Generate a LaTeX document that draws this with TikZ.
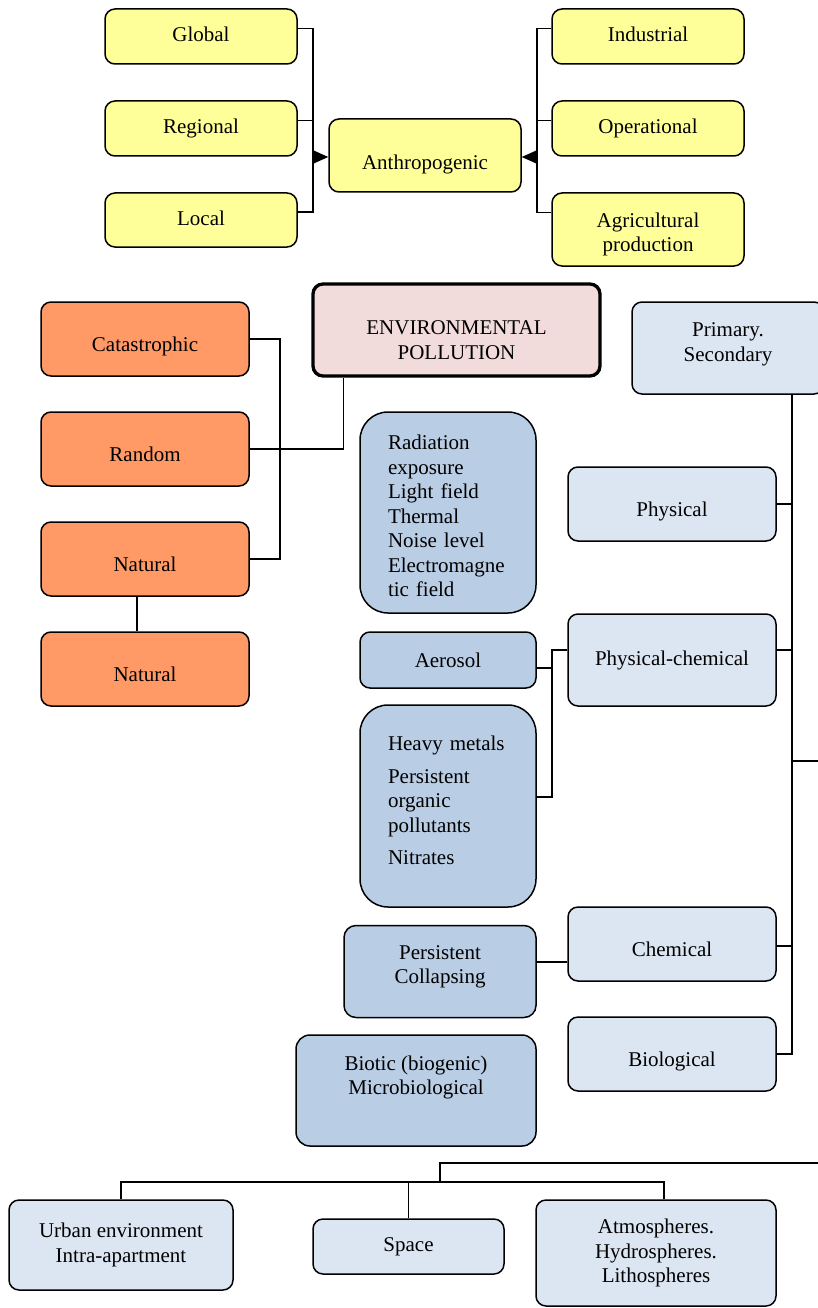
\documentclass[tikz,border=0pt]{standalone}
\usepackage{fontspec}
\setmainfont{Liberation Serif}
\usetikzlibrary{arrows.meta}
\definecolor{yel}{HTML}{FFFF99}
\definecolor{org}{HTML}{FF9966}
\definecolor{pnk}{HTML}{F2DCDB}
\definecolor{lblue}{HTML}{DCE6F2}
\definecolor{dblue}{HTML}{B9CDE5}
\newcommand\myTop[1]{\rule{0pt}{#1}}
\newcommand\myBot[1]{\rule[-#1]{0pt}{#1}}
\begin{document}
\begin{tikzpicture}[x=1pt,y=-1pt,
  every node/.style={font=\fontsize{21}{24.5}\selectfont, inner sep=0pt},
  box/.style={draw=black, line width=1.5pt, rounded corners=10pt, align=center},
  ybox/.style={box, fill=yel, minimum width=192pt, text height=15pt, text depth=4pt},
  obox/.style={box, fill=org, minimum width=208pt, minimum height=74pt, low},
  lbox/.style={box, fill=lblue},
  dbox/.style={box, fill=dblue},
  low/.style={text height=25.4pt, text depth=0pt},
  conn/.style={draw=black, line width=1.4pt},
  tip/.style={-{Triangle[length=16pt,width=14pt]}}
]
\useasboundingbox (0,0) rectangle (818,1308);

% ---------- top: anthropogenic ----------
\node[ybox, minimum height=55pt] (global) at (201,36.5) {Global};
\node[ybox, minimum height=55pt] (regional) at (201,128.5) {Regional};
\node[ybox, minimum height=54pt] (local) at (201,220) {Local};
\node[box, fill=yel, minimum width=192pt, minimum height=73pt, text height=29pt, text depth=0pt] (anthro) at (425,155.5) {Anthropogenic};
\node[ybox, minimum height=55pt] (industrial) at (648,36.5) {Industrial};
\node[ybox, minimum height=55pt] (operational) at (648,128.5) {Operational};
\node[box, fill=yel, minimum width=192pt, minimum height=73pt] (agri) at (648,229.5) {\myTop{24pt}Agricultural\\production};

\coordinate (lb) at (313,155.5);
\coordinate (rb) at (537,155.5);
\coordinate (g1) at ([yshift=8pt]global.east);
\coordinate (r1) at ([yshift=8pt]regional.east);
\coordinate (l1) at ([yshift=8pt]local.east);
\coordinate (i1) at ([yshift=8pt]industrial.west);
\coordinate (o1) at ([yshift=8pt]operational.west);
\coordinate (a1) at ([yshift=17pt]agri.west);
\coordinate (aw) at ([yshift=-1.5pt]anthro.west);
\coordinate (ae) at ([yshift=-1.5pt]anthro.east);
\draw[conn] (g1) -- (g1 -| lb) |- (l1);
\draw[conn] (r1) -- (r1 -| lb);
\draw[conn, tip] (aw -| lb) -- (aw);
\draw[conn] (i1) -- (i1 -| rb) |- (a1);
\draw[conn] (o1) -- (o1 -| rb);
\draw[conn, tip] (ae -| rb) -- (ae);

% ---------- middle left ----------
\node[box, fill=pnk, line width=3.3pt, minimum width=287pt, minimum height=92pt] (env) at (456.5,330) {\myTop{34.5pt}ENVIRONMENTAL\\POLLUTION};
\node[obox] (cata) at (145,339) {Catastrophic};
\node[obox] (random) at (145,449) {Random};
\node[obox] (nat1) at (145,559) {Natural};
\node[obox] (nat2) at (145,669) {Natural};

\coordinate (ob) at (280,339);
\draw[conn] (cata.east) -- (cata.east -| ob) |- (nat1.east);
\draw[conn] (random.east) -| ([xshift=32pt]env.south west);
\draw[conn] ([xshift=-8pt]nat1.south) -- ([xshift=-8pt]nat2.north);

% ---------- right column ----------
\node[lbox, minimum width=192pt, minimum height=92pt] (primary) at (728,348) {Primary.\\Secondary\myBot{11.8pt}};
\node[lbox, minimum width=208pt, minimum height=74pt, low] (physical) at (672,504) {Physical};
\node[lbox, minimum width=208pt, minimum height=92pt] (pchem) at (672,660) {Physical-chemical};
\node[lbox, minimum width=208pt, minimum height=74pt, low] (chemical) at (672,944) {Chemical};
\node[lbox, minimum width=208pt, minimum height=74pt, low] (biological) at (672,1054) {Biological};

\coordinate (mx) at (792,761);
\coordinate (pcr) at ([yshift=10pt]pchem.east);
\coordinate (chr) at ([yshift=-2pt]chemical.east);
\draw[conn] (primary.south -| mx) |- (biological.east);
\draw[conn] (physical.east) -- (physical.east -| mx);
\draw[conn] (pcr) -- (pcr -| mx);
\draw[conn] (chr) -- (chr -| mx);

% ---------- dark blue boxes ----------
\node[dbox, rounded corners=28pt, minimum width=176pt, minimum height=201pt, text width=120pt, align=left] (rad) at (448,512.5) {\myTop{22pt}Radiation\\exposure\\Light field\\Thermal\\Noise level\\Electromagne\\tic field};
\node[dbox, minimum width=176pt, minimum height=56pt] (aerosol) at (448,660) {Aerosol};
\node[dbox, rounded corners=28pt, minimum width=176pt, minimum height=202pt, text width=120pt, align=left] (heavy) at (448,806) {Heavy metals\\[8pt]Persistent\\organic\\pollutants\\[8pt]Nitrates\myBot{11.4pt}};
\node[dbox, rounded corners=12pt, minimum width=192pt, minimum height=92pt] (persist) at (440,971.5) {Persistent\\Collapsing\myBot{14.2pt}};
\node[dbox, rounded corners=14pt, minimum width=240pt, minimum height=111pt] (biotic) at (416,1090.5) {Biotic (biogenic)\\Microbiological\myBot{30.8pt}};

\coordinate (jx) at (552,660);
\coordinate (pcl) at ([yshift=10pt]pchem.west);
\coordinate (hm) at ([yshift=9pt]heavy.east);
\coordinate (aer) at ([yshift=-8pt]aerosol.east);
\coordinate (pe) at ([yshift=9.5pt]persist.east);
\draw[conn] (pcl) -- (pcl -| jx) |- (hm);
\draw[conn] (aer) -- (aer -| jx);
\draw[conn] (pe) -- (pe -| chemical.west);

% ---------- bottom ----------
\node[lbox, minimum width=224pt, minimum height=90pt] (urban) at (121,1245) {Urban environment\\Intra-apartment};
\node[lbox, minimum width=191pt, minimum height=55pt] (space) at (408.5,1246.5) {Space};
\node[lbox, minimum width=240pt, minimum height=106pt] (atmos) at (656,1253) {Atmospheres.\\Hydrospheres.\\Lithospheres};

\coordinate (off1) at (832,761);
\coordinate (off2) at (832,1163);
\coordinate (bt) at (440,1163);
\coordinate (bj) at (440,1182);
\draw[conn] (mx) -- (off1) -- (off2) -- (bt) -- (bj);
\draw[conn] (urban.north) |- (bj);
\draw[conn] ([xshift=8pt]atmos.north) |- (bj);
\draw[conn] (space.north) -- (space.north |- bj);
\end{tikzpicture}
\end{document}
